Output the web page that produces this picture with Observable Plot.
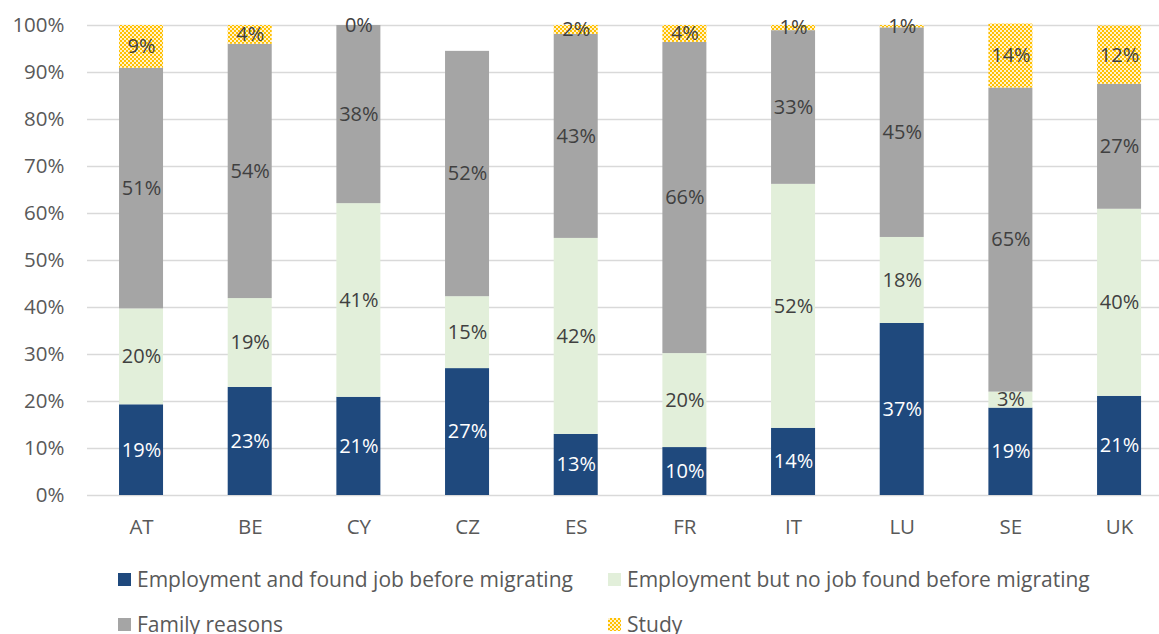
<!DOCTYPE html>
<html>
<head>
<meta charset="utf-8">
<script src="https://cdn.jsdelivr.net/npm/d3@7"></script>
<script src="https://cdn.jsdelivr.net/npm/@observablehq/plot@0.6"></script>
<style>
  body { margin: 0; background: #fff; font-family: "Open Sans", sans-serif; }
  #wrap { position: relative; width: 1159px; height: 634px; overflow: hidden; }
  .leg { position: absolute; display: flex; align-items: center; font-size: 21px; color: #595959; white-space: nowrap; }
  .sw { width: 13px; height: 13px; margin-right: 6px; display: inline-block; }
</style>
</head>
<body>
<div id="wrap"></div>
<script>
const countries = ["AT","BE","CY","CZ","ES","FR","IT","LU","SE","UK"];
const seriesNames = [
  "Employment and found job before migrating",
  "Employment but no job found before migrating",
  "Family reasons",
  "Study"
];
const employedJob   = [19.3, 23.0, 20.9, 27.0, 13.0, 10.2, 14.3, 36.6, 18.6, 21.1];
const employedNoJob = [20.4, 18.9, 41.2, 15.3, 41.7, 20.0, 51.9, 18.3,  3.4, 39.8];
const family        = [51.2, 54.1, 37.9, 52.2, 43.4, 66.2, 32.7, 44.6, 64.7, 26.6];
const study         = [ 9.1,  4.0,  0.0, null,  1.9,  3.6,  1.1,  0.5, 13.6, 12.4];
const colors = ["#1f497d", "#e2efda", "#a5a5a5", "url(#studyPattern)"];

const seriesValues = [employedJob, employedNoJob, family, study];
const data = [];
seriesNames.forEach((s, si) => {
  countries.forEach((c, ci) => {
    const v = seriesValues[si][ci];
    if (v != null) data.push({country: c, series: s, value: v});
  });
});

const stackOpts = {x: "country", y: "value", z: "series", order: seriesNames};
const pct = d => Math.round(d.value) + "%";

const chart = Plot.plot({
  width: 1159,
  height: 545,
  marginLeft: 87,
  marginRight: 0,
  marginTop: 25,
  marginBottom: 50,
  style: {fontFamily: "Open Sans, sans-serif", fontSize: "20.5px", color: "#595959", background: "#fff"},
  x: {domain: countries, range: [86.7, 1173.4], round: false, paddingInner: 0.595, paddingOuter: 0.2975, label: null, tickSize: 0, tickPadding: 24},
  y: {domain: [0, 100], ticks: d3.range(0, 101, 10), tickFormat: d => d + "%", label: null, tickSize: 0, tickPadding: 23},
  color: {domain: seriesNames, range: colors},
  marks: [
    Plot.ruleY(d3.range(0, 101, 10), {stroke: "#d9d9d9", strokeWidth: 1.5}),
    Plot.barY(data, Plot.stackY({...stackOpts, fill: "series"})),
    Plot.text(data, Plot.stackY({...stackOpts, text: d => d.series === seriesNames[0] ? pct(d) : "", fill: "#ffffff", fontSize: 20})),
    Plot.text(data, Plot.stackY({...stackOpts, text: d => d.series !== seriesNames[0] ? pct(d) : "", fill: "#404040", fontSize: 20}))
  ]
});

// checkered pattern for "Study"
const ns = "http://www.w3.org/2000/svg";
const defs = document.createElementNS(ns, "defs");
defs.innerHTML = `<pattern id="studyPattern" patternUnits="userSpaceOnUse" width="4" height="4">
  <rect width="4" height="4" fill="#fff2cc"/>
  <rect width="2" height="2" fill="#ffc000"/>
  <rect x="2" y="2" width="2" height="2" fill="#ffc000"/>
</pattern>`;
chart.insertBefore(defs, chart.firstChild);

const wrap = document.getElementById("wrap");
wrap.appendChild(chart);

const legendPos = [[118, 579], [608, 579], [118, 624], [608, 624]];
const swatchBg = [
  "#1f497d", "#e2efda", "#a5a5a5",
  "repeating-conic-gradient(#ffc000 0 25%, #fff2cc 0 50%) 0 0/4px 4px"
];
seriesNames.forEach((s, i) => {
  const el = document.createElement("div");
  el.className = "leg";
  el.style.left = legendPos[i][0] + "px";
  el.style.top = (legendPos[i][1] - 14) + "px";
  el.style.height = "28px";
  const sw = document.createElement("span");
  sw.className = "sw";
  sw.style.background = swatchBg[i];
  el.appendChild(sw);
  el.appendChild(document.createTextNode(s));
  wrap.appendChild(el);
});
</script>
</body>
</html>
